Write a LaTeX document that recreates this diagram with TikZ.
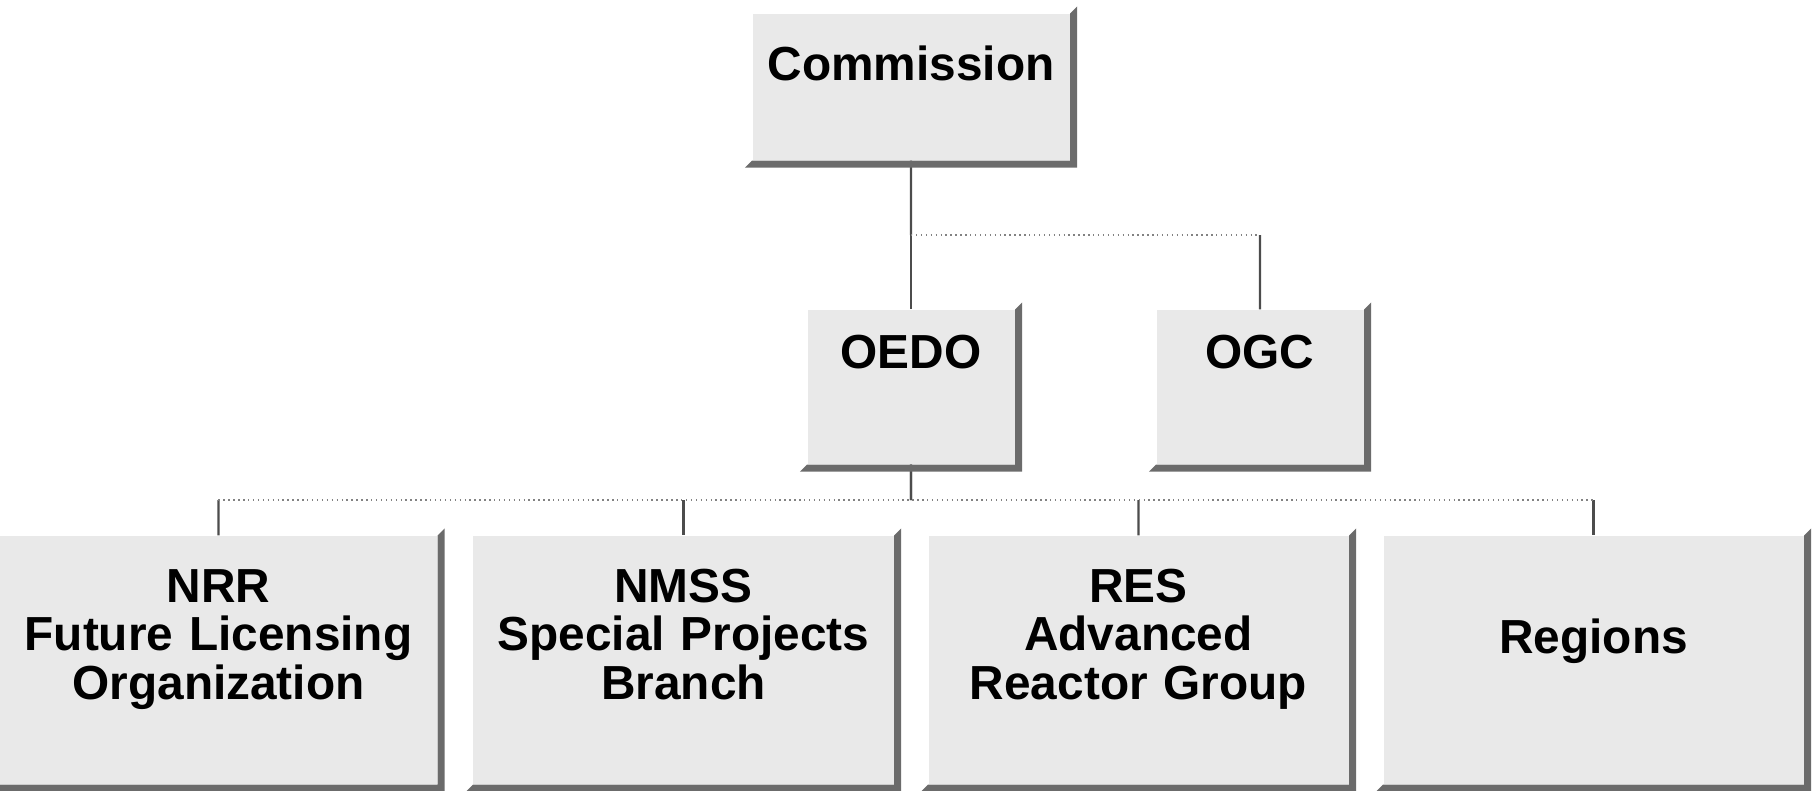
\documentclass[tikz,border=0pt]{standalone}
\usepackage{fontspec}
\setmainfont{Liberation Sans}
\usetikzlibrary{calc}
\definecolor{facegray}{gray}{0.915}
\definecolor{shadegray}{gray}{0.42}
\definecolor{linegray}{gray}{0.30}
\tikzset{
  orgnode/.style = {align=center, inner sep=0pt, text centered,
    font=\fontsize{13.6pt}{13.8pt}\selectfont\bfseries, fill=facegray},
  org_top/.style = {orgnode, text width=31.7mm, text height=6.6mm, text depth=8mm},
  org_mid/.style = {orgnode, text width=20.7mm, text height=5.8mm, text depth=9.6mm},
  org_low/.style = {orgnode, text width=42mm, text height=6.6mm, text depth=18.2mm},
  bus/.style = {densely dotted, linegray!70}}

\begin{document}
\begin{tikzpicture}[x=1mm, y=1mm, level/.style={sibling distance=34.9mm,
  level distance=30mm},
  edge from parent/.style={draw=linegray, line width=0.6pt},
  edge from parent path={(\tikzparentnode.south) --
    ($(\tikzparentnode.south)!.5!(\tikzparentnode.south |- \tikzchildnode.north)$)
    ($(\tikzchildnode.north)!.5!(\tikzchildnode.north |- \tikzparentnode.south)$) --
    (\tikzchildnode.north)}]
 \tikzstyle{level 2}=[sibling distance=45.5mm, level distance=27.3mm]
 \useasboundingbox (0,0) rectangle (181.2,-79.1);

\node [org_top] (comm) at (91.1,-8.7) {Commission}
	child[missing] {}
	child{ node [org_mid] (oedo) {OEDO}
		child{ node [org_low, text width=43.7mm, xshift=-1mm] (nrr) {NRR\\Future Licensing\\Organization}}
		child{ node [org_low] (nmss) {NMSS\\Special Projects\\Branch}}
		child{ node [org_low] (res) {RES\\Advanced\\Reactor Group}}
		child{ node [org_low, text height=11.7mm, text depth=13.1mm] (reg) {Regions}}
	}
	child{ node [org_mid] (ogc) {OGC}}
;

% thin connecting lines
\coordinate (upper bus) at ($(comm.south)!.5!(oedo.north)$);
\coordinate (lower bus) at ($(oedo.south)!.5!(nmss.north)$);
\draw[bus] (upper bus) -- (upper bus -| ogc.north);
\draw[bus] (lower bus -| nrr.north) -- (lower bus -| reg.north);

% shadow on the right and bottom of each box
\foreach \n in {comm, oedo, ogc, nrr, nmss, res, reg}
  \fill[shadegray] (\n.north east) -- ++(0.7,0.7)
    -- ([shift={(0.7,-0.7)}]\n.south east)
    -- ([shift={(-0.7,-0.7)}]\n.south west)
    -- (\n.south west) -- (\n.south east) -- cycle;
\end{tikzpicture}
\end{document}
